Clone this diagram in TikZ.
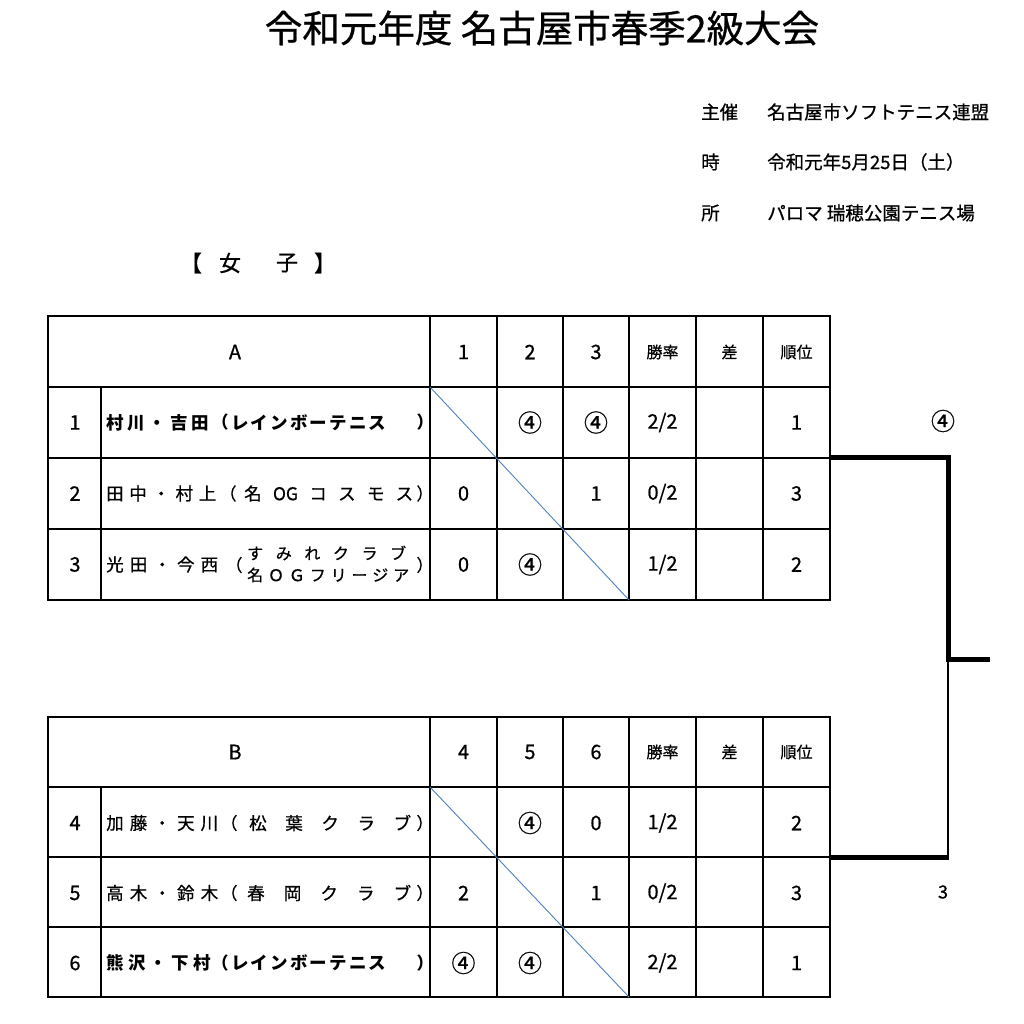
\documentclass[tikz,border=0pt]{standalone}
\usepackage{fontspec}
\setmainfont{Noto Sans CJK JP}[UprightFeatures={FakeBold=0.7}]
\makeatletter
\def\spr@end{\spr@end}
\def\spr@loop#1{\ifx\spr@end#1\else\hfil#1\expandafter\spr@loop\fi}
\def\spr@first#1{#1\spr@loop}
\newcommand\spreadbox[2]{\makebox[#1][s]{\spr@first#2\spr@end}}
\makeatother
\definecolor{diagblue}{RGB}{79,129,189}
\tikzset{
  every node/.style={inner sep=0pt},
  gridline/.style={line width=1.8pt, line cap=rect},
  diagline/.style={draw=diagblue, line width=0.9pt},
  winline/.style={line width=5pt},
  loseline/.style={line width=2pt},
  ttl/.style={font=\fontsize{37.5}{40}\selectfont},
  info/.style={font=\fontsize{18.5}{20}\selectfont, anchor=west},
  sect/.style={font=\fontsize{22}{24}\selectfont},
  cell/.style={font=\fontsize{20}{22}\selectfont},
  hdr/.style={font=\fontsize{16}{18}\selectfont},
  circ/.style={font=\fontsize{24}{26}\selectfont},
  nm/.style={font=\fontsize{17.5}{18}\selectfont, anchor=west},
  nmb/.style={font=\fontsize{17.5}{18}\selectfont\bfseries, anchor=west},
  nms/.style={font=\fontsize{16}{17}\selectfont, anchor=west},
  paren/.style={font=\fontsize{17}{18}\selectfont},
  parenb/.style={font=\fontsize{17}{18}\selectfont\bfseries},
  scorelbl/.style={font=\fontsize{18}{20}\selectfont},
}
\newcommand\pooltable[3]{% #1 prefix, #2 top, #3 row height
  \coordinate (#1nw) at (48,#2);
  \coordinate (#1se) at (830,{#2+4*#3});
  \draw[gridline] (#1nw) rectangle (#1se);
  \foreach \k in {1,2,3} \draw[gridline] (48,{#2+\k*#3}) -- (830,{#2+\k*#3});
  \draw[gridline] (101,{#2+#3}) -- (101,{#2+4*#3});
  \foreach \cx in {430,497,563,629,696,763} \draw[gridline] (\cx,#2) -- (\cx,{#2+4*#3});
  \draw[diagline] (430,{#2+#3}) -- (629,{#2+4*#3});
}
\begin{document}
\begin{tikzpicture}[x=1pt,y=-1pt]
\useasboundingbox (0,0) rectangle (1024,1024);
\fill[white] (0,0) rectangle (1024,1024);

% title and info
\node[ttl] (title) at (542,28) {令和元年度 名古屋市春季2級大会};
\node[info] (k1) at (701,112) {主催};
\node[info] (v1) at (767,112) {名古屋市ソフトテニス連盟};
\node[info] (k2) at (701,162) {時};
\node[info] (v2) at (767,162) {令和元年5月25日（土）};
\node[info] (k3) at (701,213) {所};
\node[info] (v3) at (767,213) {パロマ 瑞穂公園テニス場};

\node[sect] (s1) at (191,263) {【};
\node[sect] (s2) at (230,263) {女};
\node[sect] (s3) at (287,263) {子};
\node[sect] (s4) at (325,263) {】};

% ---------- table A ----------
\pooltable{A}{316}{71}
\node[cell] (Ahd) at (235,352) {A};
\node[cell] (Ah1) at (463.5,352) {1};
\node[cell] (Ah2) at (530,352) {2};
\node[cell] (Ah3) at (596,352) {3};
\node[hdr] (Ahr) at (662.5,352) {勝率};
\node[hdr] (Ahd2) at (729.5,352) {差};
\node[hdr] (Ahk) at (796.5,352) {順位};

\node[cell] (An1) at (75,422.5) {1};
\node[cell] (An2) at (75,493.5) {2};
\node[cell] (An3) at (75,564.5) {3};

\node[nmb] (Ap1) at (106,422.5) {\spreadbox{103pt}{村川・吉田}};
\node[parenb] (Ap1l) at (220,422.5) {（};
\node[nmb] (Ac1) at (231,422.5) {\spreadbox{155pt}{レインボーテニス}};
\node[parenb] (Ap1r) at (425,422.5) {）};

\node[nm] (Ap2) at (106,493.5) {\spreadbox{110pt}{田中・村上}};
\node[paren] (Ap2l) at (228,493.5) {（};
\node[nm] (Ac2) at (244,493.5) {\spreadbox{169pt}{名{OG}コスモス}};
\node[paren] (Ap2r) at (425,493.5) {）};

\node[nm] (Ap3) at (106,564.5) {\spreadbox{112pt}{光田・今西}};
\node[paren] (Ap3l) at (234,565) {（};
\node[nms] (Ac3a) at (247,553) {\spreadbox{159pt}{すみれクラブ}};
\node[nms] (Ac3b) at (247,575) {\spreadbox{162pt}{名ＯＧフリージア}};
\node[paren] (Ap3r) at (425,565) {）};

\node[circ] (A12) at (530,422.5) {④};
\node[circ] (A13) at (596,422.5) {④};
\node[cell] (A1r) at (662.5,422.5) {2/2};
\node[cell] (A1k) at (796.5,422.5) {1};

\node[cell] (A21) at (463.5,493.5) {0};
\node[cell] (A23) at (596,493.5) {1};
\node[cell] (A2r) at (662.5,493.5) {0/2};
\node[cell] (A2k) at (796.5,493.5) {3};

\node[cell] (A31) at (463.5,564.5) {0};
\node[circ] (A32) at (530,564.5) {④};
\node[cell] (A3r) at (662.5,564.5) {1/2};
\node[cell] (A3k) at (796.5,564.5) {2};

% ---------- table B ----------
\pooltable{B}{717}{70}
\node[cell] (Bhd) at (235,752) {B};
\node[cell] (Bh1) at (463.5,752) {4};
\node[cell] (Bh2) at (530,752) {5};
\node[cell] (Bh3) at (596,752) {6};
\node[hdr] (Bhr) at (662.5,752) {勝率};
\node[hdr] (Bhd2) at (729.5,752) {差};
\node[hdr] (Bhk) at (796.5,752) {順位};

\node[cell] (Bn1) at (75,823) {4};
\node[cell] (Bn2) at (75,893) {5};
\node[cell] (Bn3) at (75,963) {6};

\node[nm] (Bp1) at (106,823) {\spreadbox{112pt}{加藤・天川}};
\node[paren] (Bp1l) at (229,823) {（};
\node[nm] (Bc1) at (249,823) {\spreadbox{162pt}{松葉クラブ}};
\node[paren] (Bp1r) at (425,823) {）};

\node[nm] (Bp2) at (106,893) {\spreadbox{112pt}{高木・鈴木}};
\node[paren] (Bp2l) at (229,893) {（};
\node[nm] (Bc2) at (247,893) {\spreadbox{164pt}{春岡クラブ}};
\node[paren] (Bp2r) at (425,893) {）};

\node[nmb] (Bp3) at (106,963) {\spreadbox{105pt}{熊沢・下村}};
\node[parenb] (Bp3l) at (220,963) {（};
\node[nmb] (Bc3) at (231,963) {\spreadbox{155pt}{レインボーテニス}};
\node[parenb] (Bp3r) at (425,963) {）};

\node[circ] (B12) at (530,823) {④};
\node[cell] (B13) at (596,823) {0};
\node[cell] (B1r) at (662.5,823) {1/2};
\node[cell] (B1k) at (796.5,823) {2};

\node[cell] (B21) at (463.5,893) {2};
\node[cell] (B23) at (596,893) {1};
\node[cell] (B2r) at (662.5,893) {0/2};
\node[cell] (B2k) at (796.5,893) {3};

\node[circ] (B31) at (463.5,963) {④};
\node[circ] (B32) at (530,963) {④};
\node[cell] (B3r) at (662.5,963) {2/2};
\node[cell] (B3k) at (796.5,963) {1};

% ---------- final bracket ----------
\coordinate (Awin) at (830,457.5);
\coordinate (Bwin) at (830,857);
\coordinate (Fmid) at (948,659);
\coordinate (Bcorner) at (948,857);
\coordinate (Fout) at (990,659);
\draw[loseline] (Fmid) -- (Bcorner);
\draw[winline] (Awin) -| (Fmid) -- (Fout);
\draw[winline] (Bwin) -- ([xshift=1pt]Bcorner);
\node[circ] (scoreA) at (943,421) {④};
\node[scorelbl] (scoreB) at (943,892) {3};
\end{tikzpicture}
\end{document}
